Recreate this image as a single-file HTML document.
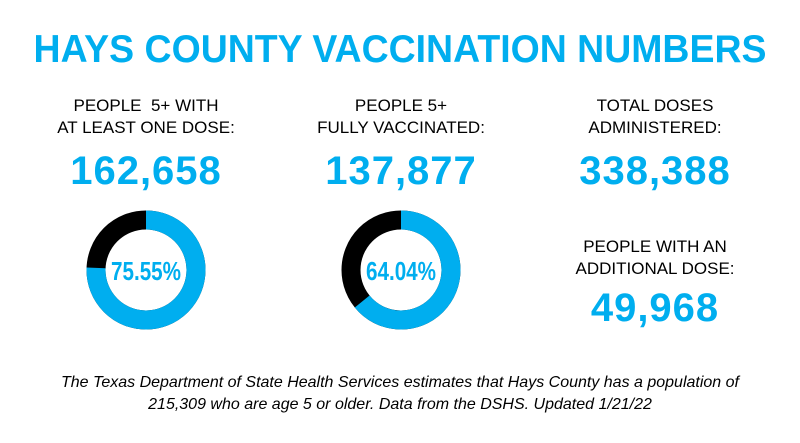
<!DOCTYPE html>
<html><head><style>
body{margin:0;width:800px;height:443px;background:#fff;font-family:"Liberation Sans",sans-serif;overflow:hidden;position:relative}
.t{position:absolute;white-space:nowrap;text-align:center;transform:translateX(-50%)}
.title{left:400px;top:28px;font-size:39px;font-weight:bold;color:#00aeef;transform:translateX(-50%) scaleX(0.96)}
.lab{font-size:17px;line-height:22px;color:#000}
.num{font-size:40px;font-weight:bold;color:#00aeef;letter-spacing:1px}
.foot{left:400px;top:372px;font-size:16px;line-height:22px;font-style:italic;color:#000}
</style></head><body>
<div class="t title">HAYS COUNTY VACCINATION NUMBERS</div>
<div class="t lab" style="left:146px;top:95px">PEOPLE &nbsp;5+ WITH<br>AT LEAST ONE DOSE:</div>
<div class="t lab" style="left:401px;top:95px">PEOPLE 5+<br>FULLY VACCINATED:</div>
<div class="t lab" style="left:655px;top:95px">TOTAL DOSES<br>ADMINISTERED:</div>
<div class="t num" style="left:146px;top:149px">162,658</div>
<div class="t num" style="left:401px;top:149px">137,877</div>
<div class="t num" style="left:655px;top:149px">338,388</div>
<div class="t lab" style="left:655px;top:236px">PEOPLE WITH AN<br>ADDITIONAL DOSE:</div>
<div class="t num" style="left:655px;top:286px">49,968</div>
<svg style="position:absolute;left:0;top:0" width="800" height="443">
<g transform="translate(146,270) rotate(-90)">
<circle r="50" fill="none" stroke="#000" stroke-width="19"/>
<circle r="50" fill="none" stroke="#00aeef" stroke-width="19" stroke-dasharray="237.4 400"/>
</g>
<g transform="translate(401,270) rotate(-90)">
<circle r="50" fill="none" stroke="#000" stroke-width="19"/>
<circle r="50" fill="none" stroke="#00aeef" stroke-width="19" stroke-dasharray="201.2 400"/>
</g>
<text x="146" y="280" text-anchor="middle" font-family="Liberation Sans" font-weight="bold" font-size="26" fill="#00aeef" textLength="70" lengthAdjust="spacingAndGlyphs">75.55%</text>
<text x="401" y="280" text-anchor="middle" font-family="Liberation Sans" font-weight="bold" font-size="26" fill="#00aeef" textLength="70" lengthAdjust="spacingAndGlyphs">64.04%</text>
</svg>
<div class="t foot">The Texas Department of State Health Services estimates that Hays County has a population of<br>215,309 who are age 5 or older. Data from the DSHS. Updated 1/21/22</div>
</body></html>
